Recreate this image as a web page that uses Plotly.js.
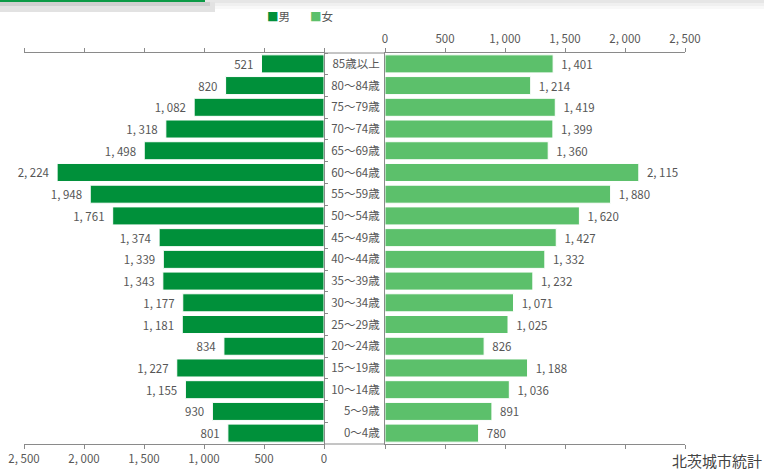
<!DOCTYPE html>
<html>
<head>
<meta charset="utf-8">
<script src="https://cdn.plot.ly/plotly-3.0.1.min.js"></script>
<style>
html,body{margin:0;padding:0;background:#fff;}
#chart{width:764px;height:471px;}
</style>
</head>
<body>
<div id="chart"></div>
<script>
const categories = ['85歳以上','80〜84歳','75〜79歳','70〜74歳','65〜69歳','60〜64歳','55〜59歳','50〜54歳','45〜49歳','40〜44歳','35〜39歳','30〜34歳','25〜29歳','20〜24歳','15〜19歳','10〜14歳','5〜9歳','0〜4歳'];
const male = [521, 820, 1082, 1318, 1498, 2224, 1948, 1761, 1374, 1339, 1343, 1177, 1181, 834, 1227, 1155, 930, 801];
const female = [1401, 1214, 1419, 1399, 1360, 2115, 1880, 1620, 1427, 1332, 1232, 1071, 1025, 826, 1188, 1036, 891, 780];
const tickValues = [0, 500, 1000, 1500, 2000, 2500];
const tickLabels = ['0', '500', '1, 000', '1, 500', '2, 000', '2, 500'];
const seriesNames = ['男', '女'];
const sourceText = '北茨城市統計';

const W = 764, H = 471;
const px = v => v / W;
const py = v => (H - v) / H;

const FONT = '"Noto Sans CJK JP", "Noto Sans", sans-serif';
const MALE_COLOR = '#00903a';
const FEMALE_COLOR = '#5cc06b';
const AXIS_COLOR = '#8a8a8a';
const TEXT_COLOR = '#575757';

function fmt(v) {
  if (v >= 1000) return Math.floor(v / 1000) + ', ' + String(v % 1000).padStart(3, '0');
  return String(v);
}
const NB = '\u00a0\u00a0';

const traces = [
  {
    type: 'bar', orientation: 'h', name: seriesNames[0],
    x: male, y: categories, xaxis: 'x', yaxis: 'y',
    marker: {color: MALE_COLOR, line: {color: '#ffffff', width: 1}},
    text: male.map(v => fmt(v) + NB), textposition: 'outside',
    textfont: {family: FONT, size: 11.5, color: TEXT_COLOR},
    cliponaxis: false, constraintext: 'none', hoverinfo: 'x+y'
  },
  {
    type: 'bar', orientation: 'h', name: seriesNames[1],
    x: female, y: categories, xaxis: 'x2', yaxis: 'y2',
    marker: {color: FEMALE_COLOR, line: {color: '#ffffff', width: 1}},
    text: female.map(v => NB + fmt(v)), textposition: 'outside',
    textfont: {family: FONT, size: 11.5, color: TEXT_COLOR},
    cliponaxis: false, constraintext: 'none', hoverinfo: 'x+y'
  }
];

const yDomain = [py(444), py(53)];

const axisCommon = {
  showgrid: false, zeroline: false, showline: true, linecolor: AXIS_COLOR, linewidth: 1,
  ticks: 'outside', ticklen: 4, tickcolor: AXIS_COLOR, tickwidth: 1,
  tickvals: tickValues, ticktext: tickLabels, mirror: 'ticks',
  tickfont: {family: FONT, size: 11.5, color: TEXT_COLOR}, fixedrange: true
};

const layout = {
  width: W, height: H,
  margin: {l: 0, r: 0, t: 0, b: 0},
  paper_bgcolor: '#ffffff', plot_bgcolor: 'rgba(0,0,0,0)',
  showlegend: false,
  bargap: 0.17,
  font: {family: FONT, color: TEXT_COLOR},
  xaxis: Object.assign({}, axisCommon, {
    domain: [px(24), px(324)], range: [2500, 0], side: 'bottom', anchor: 'y'
  }),
  xaxis2: Object.assign({}, axisCommon, {
    domain: [px(385), px(685)], range: [0, 2500], side: 'top', anchor: 'y2'
  }),
  yaxis: {
    domain: yDomain, type: 'category', categoryorder: 'array', categoryarray: categories,
    autorange: 'reversed', anchor: 'x', side: 'right',
    showline: true, linecolor: AXIS_COLOR, linewidth: 1, showgrid: false, zeroline: false,
    ticks: 'outside', tickson: 'boundaries', ticklen: 3, tickcolor: AXIS_COLOR,
    showticklabels: false, fixedrange: true
  },
  yaxis2: {
    domain: yDomain, type: 'category', categoryorder: 'array', categoryarray: categories,
    autorange: 'reversed', anchor: 'x2', side: 'left', matches: 'y',
    showline: true, linecolor: AXIS_COLOR, linewidth: 1, showgrid: false, zeroline: false,
    ticks: '', showticklabels: true, ticklabelstandoff: 2,
    tickfont: {family: FONT, size: 11.5, color: TEXT_COLOR}, fixedrange: true
  },
  shapes: [
    {type: 'line', xref: 'paper', yref: 'paper', x0: px(324), x1: px(385), y0: py(53), y1: py(53), line: {color: AXIS_COLOR, width: 1}},
    {type: 'line', xref: 'paper', yref: 'paper', x0: px(324), x1: px(385), y0: py(444), y1: py(444), line: {color: AXIS_COLOR, width: 1}},
    {type: 'rect', xref: 'paper', yref: 'paper', x0: 0, x1: 1, y0: py(3), y1: 1, fillcolor: '#e6e6e6', line: {width: 0}, layer: 'below'},
    {type: 'rect', xref: 'paper', yref: 'paper', x0: 0, x1: 1, y0: py(6), y1: py(3), fillcolor: '#f0f0f0', line: {width: 0}, layer: 'below'},
    {type: 'rect', xref: 'paper', yref: 'paper', x0: 0, x1: 1, y0: py(9), y1: py(6), fillcolor: '#f8f8f8', line: {width: 0}, layer: 'below'},
    {type: 'rect', xref: 'paper', yref: 'paper', x0: 0, x1: px(215), y0: py(12), y1: py(2), fillcolor: '#e2e2e2', line: {width: 0}, layer: 'below'},
    {type: 'rect', xref: 'paper', yref: 'paper', x0: 0, x1: px(210), y0: py(6), y1: py(2), fillcolor: '#cfcfcf', line: {width: 0}, layer: 'below'},
    {type: 'rect', xref: 'paper', yref: 'paper', x0: 0, x1: px(205), y0: py(2), y1: 1, fillcolor: '#0a9a45', line: {width: 0}, layer: 'below'}
  ],
  annotations: [
    {xref: 'paper', yref: 'paper', x: px(265), y: py(16), xanchor: 'left', yanchor: 'middle', showarrow: false,
     text: '<span style="color:' + MALE_COLOR + '">■</span>' + seriesNames[0],
     font: {family: FONT, size: 11.5, color: TEXT_COLOR}},
    {xref: 'paper', yref: 'paper', x: px(308), y: py(16), xanchor: 'left', yanchor: 'middle', showarrow: false,
     text: '<span style="color:' + FEMALE_COLOR + '">■</span>' + seriesNames[1],
     font: {family: FONT, size: 11.5, color: TEXT_COLOR}},
    {xref: 'paper', yref: 'paper', x: 1, y: py(460), xanchor: 'right', yanchor: 'middle', showarrow: false,
     text: sourceText, font: {family: FONT, size: 15, color: '#444444'}}
  ]
};

Plotly.newPlot('chart', traces, layout, {displayModeBar: false, staticPlot: true});
</script>
</body>
</html>
